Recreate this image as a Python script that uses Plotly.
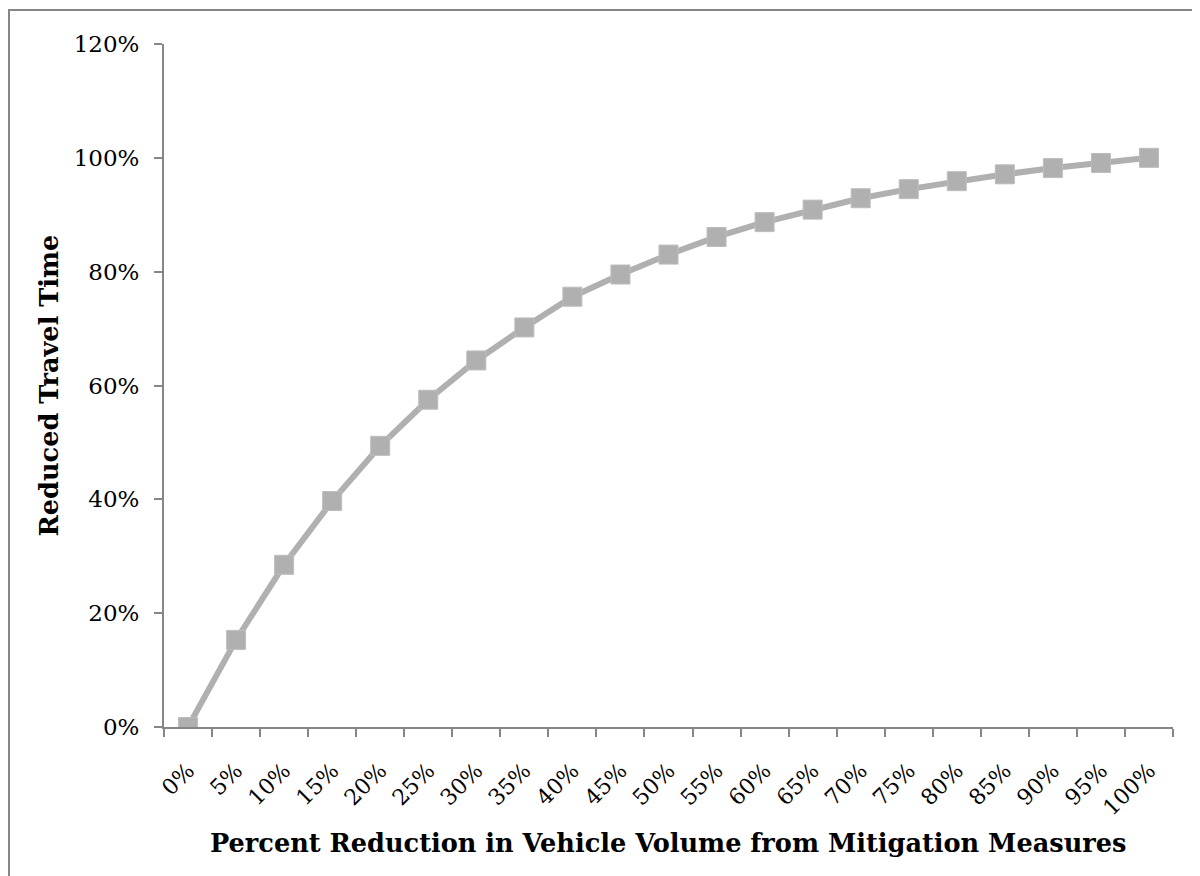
import plotly.graph_objects as go

categories = ["0%", "5%", "10%", "15%", "20%", "25%", "30%", "35%", "40%", "45%", "50%",
              "55%", "60%", "65%", "70%", "75%", "80%", "85%", "90%", "95%", "100%"]
reduced_travel_time = [0.0, 0.153, 0.285, 0.397, 0.494, 0.575, 0.644, 0.702, 0.756, 0.795, 0.830,
                       0.861, 0.887, 0.909, 0.929, 0.945, 0.959, 0.971, 0.982, 0.991, 1.0]

y_ticks = [0, 0.2, 0.4, 0.6, 0.8, 1.0, 1.2]

FONT = "DejaVu Serif"
AXIS_COLOR = "#868686"
SERIES_COLOR = "#b0b0b0"

# page has an 8px body margin; figure sized to fit the 1200x876 window
OFF = 8
W, H = 1200 - OFF, 876 - OFF
ML, MT = 164 - OFF, 44 - OFF
MR = W - (1173 - OFF)
MB = H - (727 - OFF)
PW, PH = W - ML - MR, H - MT - MB

fig = go.Figure()
fig.add_trace(go.Scatter(
    x=categories, y=reduced_travel_time, mode="lines+markers",
    line=dict(color=SERIES_COLOR, width=6),
    marker=dict(symbol="square", size=19, color=SERIES_COLOR,
                line=dict(color="#bdbdbd", width=1)),
    showlegend=False, hoverinfo="x+y",
))

fig.update_layout(
    width=W, height=H,
    margin=dict(l=ML, r=MR, t=MT, b=MB),
    paper_bgcolor="white", plot_bgcolor="white",
    font=dict(family=FONT, color="black", size=22),
    xaxis=dict(
        type="category", tickson="boundaries", range=[-0.5, 20.5],
        showline=True, linecolor=AXIS_COLOR, linewidth=2,
        ticks="outside", ticklen=8, tickwidth=2, tickcolor=AXIS_COLOR,
        tickangle=-45, showgrid=False, zeroline=False, ticklabelstandoff=20,
        tickfont=dict(family=FONT, size=22, color="black"),
    ),
    yaxis=dict(
        range=[0, 1.2], tickvals=y_ticks, tickformat=".0%",
        showline=True, linecolor=AXIS_COLOR, linewidth=2,
        ticks="outside", ticklen=8, tickwidth=2, tickcolor=AXIS_COLOR,
        showgrid=False, zeroline=False, ticklabelstandoff=10,
        tickfont=dict(family=FONT, size=23, color="black"),
    ),
    annotations=[
        dict(text="<b>Percent Reduction in Vehicle Volume from Mitigation Measures</b>",
             xref="paper", yref="paper", x=0.5, y=0, yshift=-(843 - 727),
             showarrow=False, xanchor="center", yanchor="middle",
             font=dict(family=FONT, size=25.6, color="black")),
        dict(text="<b>Reduced Travel Time</b>",
             xref="paper", yref="paper", x=0, xshift=-(164 - 48), y=0.5,
             textangle=-90, showarrow=False, xanchor="center", yanchor="middle",
             font=dict(family=FONT, size=25.6, color="black")),
    ],
    shapes=[
        dict(type="rect", xref="paper", yref="paper",
             x0=(1 - ML) / PW, x1=1.2, y0=-0.4, y1=(H - MB - 2) / PH,
             line=dict(color=AXIS_COLOR, width=2), fillcolor="rgba(0,0,0,0)", layer="below"),
    ],
)

fig.write_html("out.html")
